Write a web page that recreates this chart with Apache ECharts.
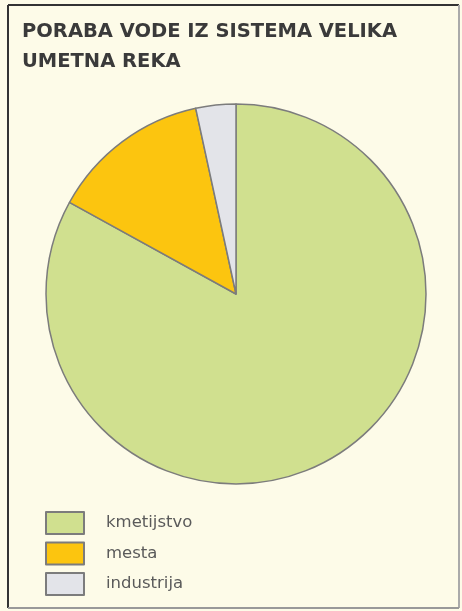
<!DOCTYPE html>
<html>
<head>
<meta charset="utf-8">
<script src="https://cdn.jsdelivr.net/npm/echarts@6/dist/echarts.min.js"></script>
<style>
html,body{margin:0;padding:0;background:#fdfbe8;}
#c{width:462px;height:611px;}
</style>
</head>
<body>
<div id="c"></div>
<script>
const titleText = 'PORABA VODE IZ SISTEMA VELIKA\nUMETNA REKA';
const categories = ['kmetijstvo', 'mesta', 'industrija'];
const values = [83.0, 13.6, 3.4];
const colors = ['#d0e08f', '#fcc50f', '#e3e4e9'];

const chart = echarts.init(document.getElementById('c'), null, {renderer: 'canvas'});
chart.setOption({
  backgroundColor: '#fdfbe8',
  animation: false,
  title: {
    text: titleText,
    left: 22,
    top: 17,
    padding: 0,
    textStyle: {
      fontFamily: 'DejaVu Sans',
      fontWeight: 'bold',
      fontSize: 19.5,
      color: '#3a3a3a',
      lineHeight: 30
    }
  },
  legend: {
    orient: 'vertical',
    left: 45,
    top: 511,
    padding: 0,
    itemWidth: 38,
    itemHeight: 22,
    itemGap: 6.5,
    icon: 'rect',
    data: categories,
    textStyle: {
      fontFamily: 'DejaVu Sans',
      fontSize: 16.5,
      color: '#5a5a5a',
      padding: [0, 0, 0, 17]
    }
  },
  graphic: [
    {type: 'line', shape: {x1: 8, y1: 5, x2: 459, y2: 5}, style: {stroke: '#333', lineWidth: 2}, z: 10},
    {type: 'line', shape: {x1: 8, y1: 5, x2: 8, y2: 608}, style: {stroke: '#333', lineWidth: 2}, z: 10},
    {type: 'line', shape: {x1: 459, y1: 5, x2: 459, y2: 608}, style: {stroke: '#aaa', lineWidth: 2}, z: 10},
    {type: 'line', shape: {x1: 8, y1: 608, x2: 459, y2: 608}, style: {stroke: '#999', lineWidth: 2}, z: 10}
  ],
  series: [{
    type: 'pie',
    center: [236, 294],
    radius: 190,
    startAngle: 90,
    clockwise: true,
    label: {show: false},
    labelLine: {show: false},
    emphasis: {disabled: true},
    itemStyle: {borderColor: '#7c7c7c', borderWidth: 1.5},
    data: categories.map((n, i) => ({name: n, value: values[i], itemStyle: {color: colors[i]}}))
  }]
});
</script>
</body>
</html>
